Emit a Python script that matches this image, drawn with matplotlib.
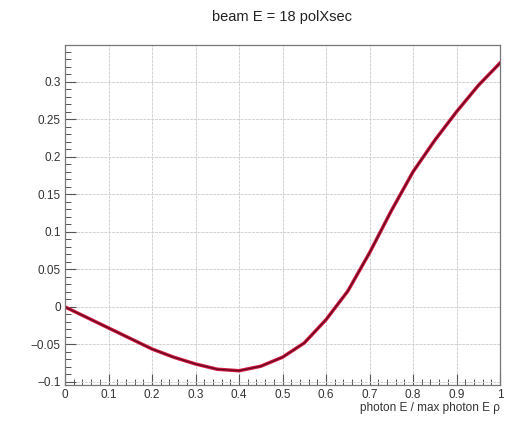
import numpy as np
import matplotlib
matplotlib.use("Agg")
import matplotlib.pyplot as plt
from matplotlib.ticker import MultipleLocator

plt.rcParams['font.family'] = ['Liberation Sans', 'DejaVu Sans']

# values
x_frac = [0.0, 0.05, 0.1, 0.15, 0.2, 0.25, 0.3, 0.35, 0.4, 0.45, 0.5,
          0.55, 0.6, 0.65, 0.7, 0.75, 0.8, 0.85, 0.9, 0.95, 1.0]
pol_xsec = [0.0, -0.014, -0.028, -0.042, -0.056, -0.067, -0.076, -0.083, -0.085, -0.079, -0.067,
            -0.048, -0.017, 0.021, 0.072, 0.128, 0.180, 0.222, 0.260, 0.295, 0.325]
title = "beam E = 18 polXsec"
xlabel = "photon E / max photon E \u03c1"

fig = plt.figure(figsize=(5.08, 4.21), dpi=100)
ax = fig.add_axes([65/508, 1 - 385/421, 435/508, 340/421])

ax.plot(x_frac, pol_xsec, color='#d3173f', lw=2.5, solid_joinstyle='round')
ax.plot(x_frac, pol_xsec, color='#650b20', lw=1.0, solid_joinstyle='round')

ax.set_xlim(0, 1)
ax.set_ylim(-0.104, 0.349)

ax.xaxis.set_major_locator(MultipleLocator(0.1))
ax.xaxis.set_minor_locator(MultipleLocator(0.02))
ax.yaxis.set_major_locator(MultipleLocator(0.05))
ax.yaxis.set_minor_locator(MultipleLocator(0.01))
ax.set_xticklabels([f"{v:g}" for v in ax.get_xticks()])
ax.set_yticklabels([f"{v:g}".replace('-', '\u2212') if abs(v) > 1e-9 else "0" for v in ax.get_yticks()])

ax.tick_params(which='both', direction='in', top=False, right=False, color='#555555',
               labelsize=8.5, labelcolor='#333333')
ax.tick_params(which='major', length=8, width=0.8, pad=3)
ax.tick_params(which='minor', length=4, width=0.7)

ax.grid(True, which='major', color='#d2d2d2', lw=0.7, ls=(0, (3, 1)))
ax.set_axisbelow(True)
for s in ax.spines.values():
    s.set_color('#777777')
    s.set_linewidth(0.9)

fig.text(282/508, 1 - 17/421, title, ha='center', va='center', fontsize=10.5, color='#222222')
fig.text(500/508, 1 - 408/421, xlabel, ha='right', va='center', fontsize=8.5, color='#333333')

fig.savefig("out.png", dpi=100)
